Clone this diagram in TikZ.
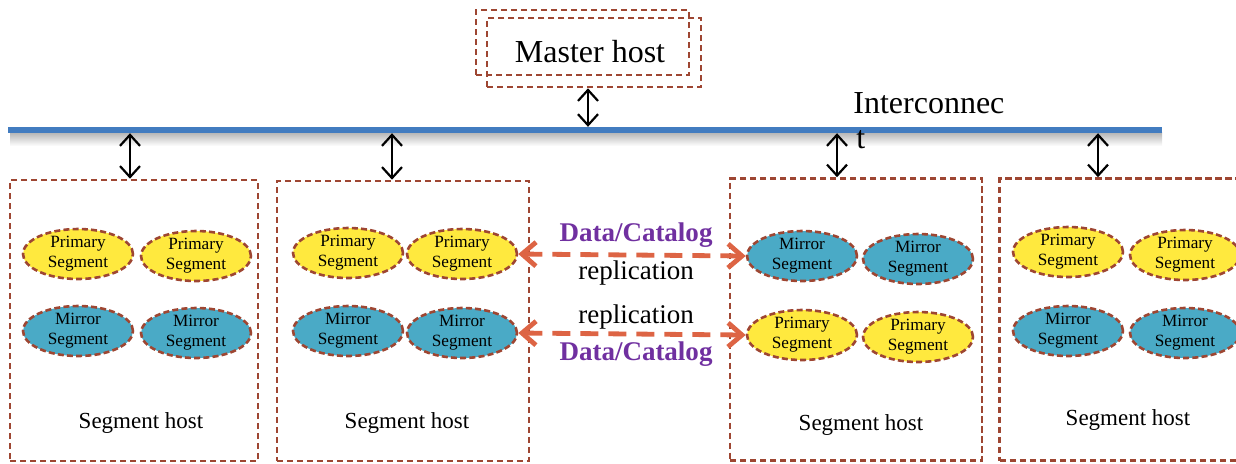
\documentclass[tikz,border=0pt]{standalone}
\usepackage{fontspec}
\setmainfont{Liberation Serif}
\usetikzlibrary{arrows.meta, shapes.geometric}
\definecolor{rust}{RGB}{158,70,50}
\definecolor{busBlue}{RGB}{66,124,192}
\definecolor{segYellow}{RGB}{255,233,62}
\definecolor{segBlue}{RGB}{74,170,198}
\definecolor{replOrange}{RGB}{221,100,68}
\definecolor{labelPurple}{RGB}{112,48,160}
\tikzstyle{hostBox} = [draw=rust, line width=1.3pt, dash pattern=on 3.2pt off 1.8pt,
   rectangle, inner sep=0pt]
\tikzstyle{segPrimary} = [ellipse, draw=rust, line width=1.3pt,
   dash pattern=on 3pt off 1.6pt, fill=segYellow, minimum width=55pt,
   minimum height=25pt, inner sep=0pt, align=center,
   font=\fontsize{8.6}{10}\selectfont]
\tikzstyle{segMirror} = [segPrimary, fill=segBlue]
\tikzstyle{biArrow} = [{Straight Barb[length=5.5pt,width=10pt]}-{Straight Barb[length=5.5pt,width=10pt]},
   line width=1.1pt, black]
\tikzstyle{replArrow} = [{Straight Barb[length=7pt,width=12pt]}-{Straight Barb[length=7pt,width=12pt]},
   replOrange, line width=2.4pt, dash pattern=on 9pt off 5pt]
\tikzstyle{hostLabel} = [font=\fontsize{11.5}{13}\selectfont]
\tikzstyle{replLabel} = [font=\fontsize{13.5}{15}\selectfont]
\tikzstyle{dataLabel} = [font=\fontsize{13.5}{15}\selectfont\bfseries, text=labelPurple]

\begin{document}
\begin{tikzpicture}[x=0.5pt, y=-0.5pt]
  \useasboundingbox (0,0) rectangle (1236,463);
  \clip (0,0) rectangle (1236,463);

  % master host and interconnect
  \node[hostBox, minimum width=106.5pt, minimum height=32.5pt] (masterA) at (582.5,42.5) {};
  \node[hostBox, minimum width=107pt, minimum height=34.5pt] (masterB) at (594,52.5) {};
  \node[font=\fontsize{16}{18}\selectfont] (masterTxt) at (590,52) {Master host};
  \shade[top color=black!30, bottom color=white] (10,132) rectangle (1162,146);
  \node[fill=busBlue, rectangle, inner sep=0pt, minimum width=577pt, minimum height=2.8pt] (bus) at (585,130) {};
  \node[anchor=base west, font=\fontsize{16}{18}\selectfont, inner sep=0pt] (busTxt) at (853,113) {Interconnec};
  \node[anchor=base west, font=\fontsize{16}{18}\selectfont, inner sep=0pt] (busTxtB) at (856,148) {t};

  % segment hosts
  \node[hostBox, minimum width=124pt, minimum height=140.5pt] (host1) at (134,320.5) {};
  \node[hostBox, minimum width=126pt, minimum height=140pt] (host2) at (403,321) {};
  \node[hostBox, minimum width=126pt, minimum height=141pt] (host3) at (856,319.5) {};
  \node[hostBox, minimum width=125pt, minimum height=141pt] (host4) at (1124.5,319.5) {};
  \node[hostLabel] (host1Txt) at (141,423) {Segment host};
  \node[hostLabel] (host2Txt) at (407,423) {Segment host};
  \node[hostLabel] (host3Txt) at (861,425) {Segment host};
  \node[hostLabel] (host4Txt) at (1128,420) {Segment host};

  % segments
  \node[segPrimary] (h1p1) at (78,254) {Primary\\Segment};
  \node[segPrimary] (h1p2) at (196,256) {Primary\\Segment};
  \node[segMirror] (h1m1) at (78,331) {Mirror\\Segment};
  \node[segMirror] (h1m2) at (196,333) {Mirror\\Segment};
  \node[segPrimary] (h2p1) at (348,253) {Primary\\Segment};
  \node[segPrimary] (h2p2) at (462,254) {Primary\\Segment};
  \node[segMirror] (h2m1) at (348,331) {Mirror\\Segment};
  \node[segMirror] (h2m2) at (462,333) {Mirror\\Segment};
  \node[segMirror] (h3m1) at (802,256) {Mirror\\Segment};
  \node[segMirror] (h3m2) at (918,259) {Mirror\\Segment};
  \node[segPrimary] (h3p1) at (802,335) {Primary\\Segment};
  \node[segPrimary] (h3p2) at (918,337) {Primary\\Segment};
  \node[segPrimary] (h4p1) at (1068,252) {Primary\\Segment};
  \node[segPrimary] (h4p2) at (1185,255) {Primary\\Segment};
  \node[segMirror] (h4m1) at (1068,331) {Mirror\\Segment};
  \node[segMirror] (h4m2) at (1185,333) {Mirror\\Segment};

  % links to the interconnect
  \coordinate (tapM) at (588,0);
  \coordinate (tap1) at (130,0);
  \coordinate (tap2) at (392,0);
  \coordinate (tap3) at (837,0);
  \coordinate (tap4) at (1098,0);
  \draw[biArrow] (tapM |- masterB.south) -- (tapM |- bus.north);
  \draw[biArrow] (tap1 |- bus.south) -- (tap1 |- host1.north);
  \draw[biArrow] (tap2 |- bus.south) -- (tap2 |- host2.north);
  \draw[biArrow] (tap3 |- bus.south) -- (tap3 |- host3.north);
  \draw[biArrow] (tap4 |- bus.south) -- (tap4 |- host4.north);

  % replication
  \draw[replArrow] (h2p2.east) -- (h3m1.west);
  \draw[replArrow] (h2m2.east) -- (h3p1.west);
  \node[dataLabel] (dataTop) at (636,235) {Data/Catalog};
  \node[replLabel] (replTop) at (636,273) {replication};
  \node[replLabel] (replBot) at (636,317) {replication};
  \node[dataLabel] (dataBot) at (636,354) {Data/Catalog};
\end{tikzpicture}
\end{document}
